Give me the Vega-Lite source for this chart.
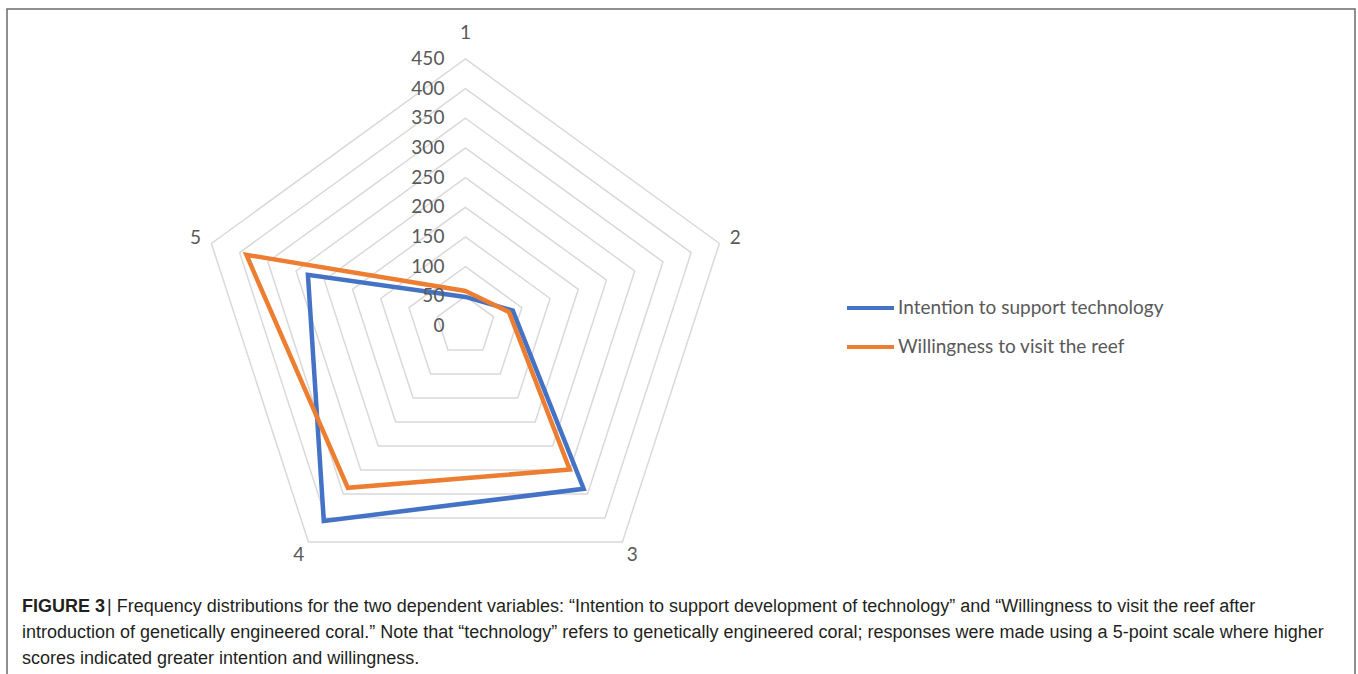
{
  "$schema": "https://vega.github.io/schema/vega-lite/v6.json",
  "width": 1348,
  "height": 670,
  "autosize": {"type": "none"},
  "padding": {"left": 7, "top": 9, "right": 3, "bottom": 0},
  "background": "white",
  "config": {"view": {"stroke": "#6b6b6b", "strokeWidth": 1.5}, "font": "Lato"},
  "title": {
    "text": "FIGURE 3",
    "subtitle": [
      "\u200b\u00a0\u00a0\u00a0\u00a0\u00a0\u00a0\u00a0\u00a0\u00a0\u00a0\u00a0\u00a0\u00a0\u00a0\u00a0\u00a0\u00a0| Frequency distributions for the two dependent variables: “Intention to support development of technology” and “Willingness to visit the reef after",
      "introduction of genetically engineered coral.” Note that “technology” refers to genetically engineered coral; responses were made using a 5-point scale where higher",
      "scores indicated greater intention and willingness."
    ],
    "orient": "bottom",
    "anchor": "start",
    "frame": "group",
    "offset": -81,
    "dx": 15,
    "font": "'Liberation Sans Narrow', 'Liberation Sans', Arial, sans-serif",
    "fontSize": 18,
    "fontWeight": "bold",
    "color": "#231f20",
    "subtitleFont": "'Liberation Sans Narrow', 'Liberation Sans', Arial, sans-serif",
    "subtitleFontSize": 18,
    "subtitleFontWeight": "normal",
    "subtitleColor": "#231f20",
    "subtitleLineHeight": 26,
    "subtitlePadding": -18
  },
  "datasets": {
    "series": [
      {"series": "Intention to support technology", "axis": 1, "value": 49},
      {"series": "Intention to support technology", "axis": 2, "value": 84},
      {"series": "Intention to support technology", "axis": 3, "value": 339},
      {"series": "Intention to support technology", "axis": 4, "value": 406},
      {"series": "Intention to support technology", "axis": 5, "value": 279},
      {"series": "Willingness to visit the reef", "axis": 1, "value": 59},
      {"series": "Willingness to visit the reef", "axis": 2, "value": 77},
      {"series": "Willingness to visit the reef", "axis": 3, "value": 299},
      {"series": "Willingness to visit the reef", "axis": 4, "value": 337},
      {"series": "Willingness to visit the reef", "axis": 5, "value": 388}
    ],
    "rings": [
      {"ring": 50, "axis": [1, 2, 3, 4, 5]},
      {"ring": 100, "axis": [1, 2, 3, 4, 5]},
      {"ring": 150, "axis": [1, 2, 3, 4, 5]},
      {"ring": 200, "axis": [1, 2, 3, 4, 5]},
      {"ring": 250, "axis": [1, 2, 3, 4, 5]},
      {"ring": 300, "axis": [1, 2, 3, 4, 5]},
      {"ring": 350, "axis": [1, 2, 3, 4, 5]},
      {"ring": 400, "axis": [1, 2, 3, 4, 5]},
      {"ring": 450, "axis": [1, 2, 3, 4, 5]}
    ],
    "ticks": [
      {"tick": 0}, {"tick": 50}, {"tick": 100}, {"tick": 150}, {"tick": 200},
      {"tick": 250}, {"tick": 300}, {"tick": 350}, {"tick": 400}, {"tick": 450}
    ],
    "spokes": [
      {"axis": 1, "label": "1"},
      {"axis": 2, "label": "2"},
      {"axis": 3, "label": "3"},
      {"axis": 4, "label": "4"},
      {"axis": 5, "label": "5"}
    ]
  },
  "encoding": {
    "x": {"field": "px", "type": "quantitative", "scale": {"domain": [-772.4, 1498.9], "nice": false, "zero": false}, "axis": null},
    "y": {"field": "py", "type": "quantitative", "scale": {"domain": [-594.8, 534.1], "nice": false, "zero": false}, "axis": null}
  },
  "layer": [
    {
      "data": {"name": "rings"},
      "transform": [
        {"flatten": ["axis"]},
        {"calculate": "datum.ring * sin((datum.axis - 1) * 2 * PI / 5)", "as": "px"},
        {"calculate": "datum.ring * cos((datum.axis - 1) * 2 * PI / 5)", "as": "py"}
      ],
      "mark": {"type": "line", "interpolate": "linear-closed", "color": "#d9d9d9", "strokeWidth": 1.5},
      "encoding": {
        "detail": {"field": "ring", "type": "nominal"},
        "order": {"field": "axis", "type": "quantitative"}
      }
    },
    {
      "data": {"name": "series"},
      "transform": [
        {"calculate": "datum.value * sin((datum.axis - 1) * 2 * PI / 5)", "as": "px"},
        {"calculate": "datum.value * cos((datum.axis - 1) * 2 * PI / 5)", "as": "py"}
      ],
      "mark": {"type": "line", "interpolate": "linear-closed", "strokeWidth": 4.5, "strokeJoin": "miter"},
      "encoding": {
        "color": {
          "field": "series",
          "type": "nominal",
          "scale": {"domain": ["Intention to support technology", "Willingness to visit the reef"], "range": ["#4472c4", "#ed7d31"]},
          "legend": {
            "orient": "none",
            "legendX": 838,
            "legendY": 289,
            "title": null,
            "symbolType": "stroke",
            "symbolSize": 2209,
            "symbolStrokeWidth": 4,
            "labelFont": "Lato",
            "labelFontSize": 19,
            "labelColor": "#595959",
            "labelOffset": 2,
            "labelLimit": 500,
            "rowPadding": 19,
            "clipHeight": 20
          }
        },
        "order": {"field": "axis", "type": "quantitative"}
      }
    },
    {
      "data": {"name": "ticks"},
      "transform": [
        {"calculate": "0", "as": "px"},
        {"calculate": "datum.tick", "as": "py"}
      ],
      "mark": {"type": "text", "align": "right", "baseline": "middle", "dx": -21, "fontSize": 19, "font": "Lato", "color": "#595959"},
      "encoding": {"text": {"field": "tick", "type": "quantitative"}}
    },
    {
      "data": {"name": "spokes"},
      "transform": [
        {"calculate": "datum.axis == 1 ? 493 : 478", "as": "r"},
        {"calculate": "datum.r * sin((datum.axis - 1) * 2 * PI / 5)", "as": "px"},
        {"calculate": "datum.r * cos((datum.axis - 1) * 2 * PI / 5)", "as": "py"}
      ],
      "mark": {"type": "text", "align": "center", "baseline": "middle", "fontSize": 19, "font": "Lato", "color": "#595959"},
      "encoding": {"text": {"field": "label", "type": "nominal"}}
    }
  ]
}
